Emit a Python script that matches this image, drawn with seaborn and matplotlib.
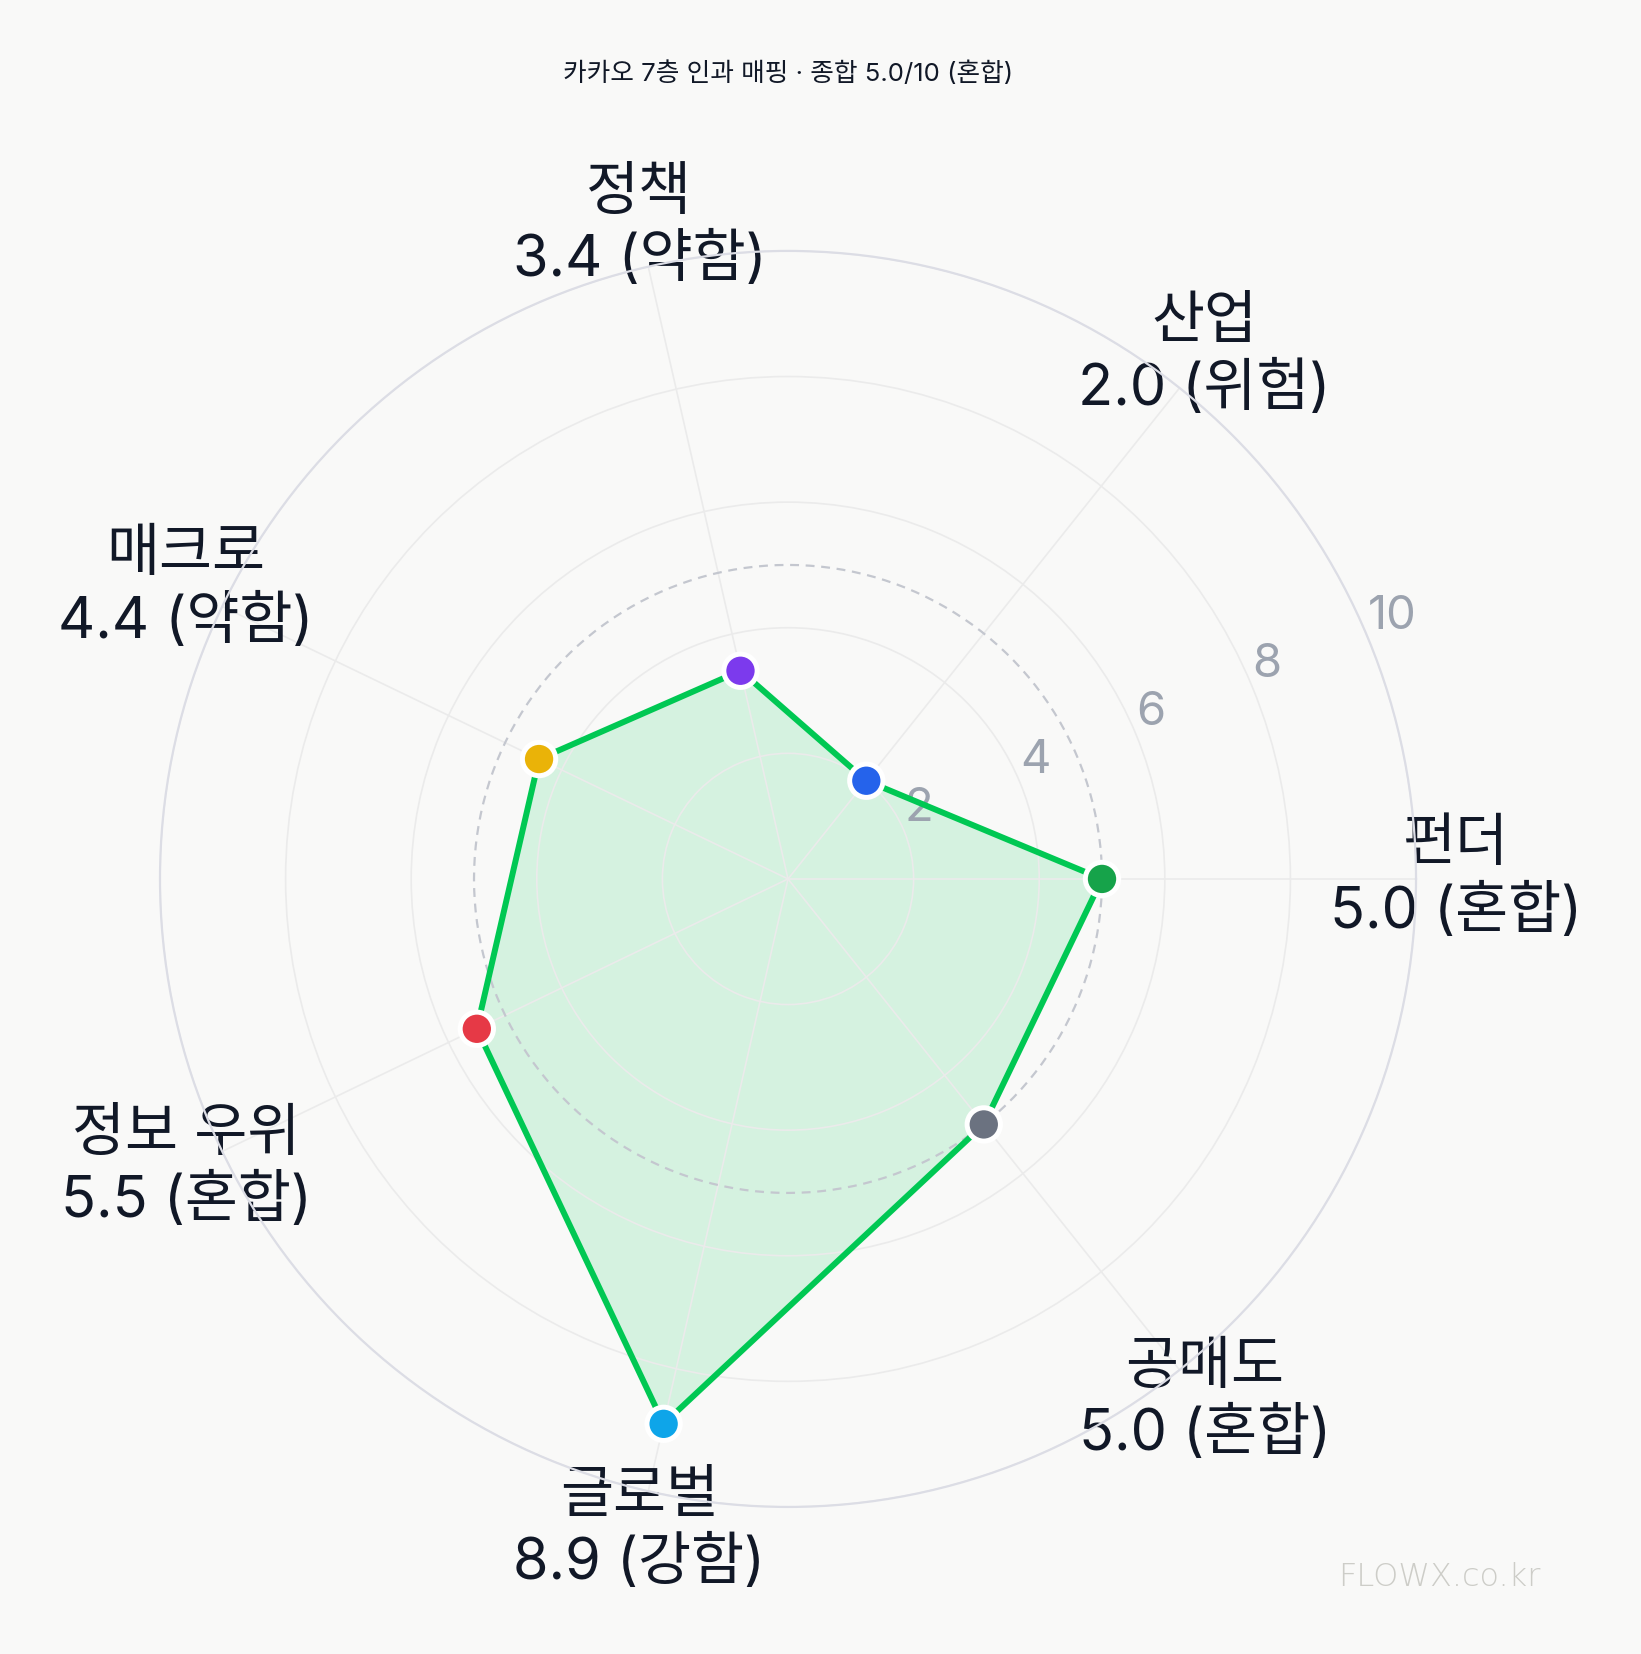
import numpy as np
import pandas as pd
import matplotlib
matplotlib.use("Agg")
import matplotlib.pyplot as plt
import seaborn as sns

# data
categories = ["펀더", "산업", "정책", "매크로", "정보 우위", "글로벌", "공매도"]
scores = [5.0, 2.0, 3.4, 4.4, 5.5, 8.9, 5.0]
grades = ["혼합", "위험", "약함", "약함", "혼합", "강함", "혼합"]
point_colors = ["#16a34a", "#2563eb", "#7c3aed", "#eab308", "#e63946", "#0ea5e9", "#6b7280"]
r_ticks = [2, 4, 6, 8, 10]
overall = 5.0
overall_grade = "혼합"
title = f"카카오 7층 인과 매핑 · 종합 {overall:.1f}/10 ({overall_grade})"

BG = "#f9f9f8"
TEXT = "#111827"
LINE = "#00c853"

sns.set_theme(style="white")
plt.rcParams["font.family"] = ["Inter", "Noto Sans CJK KR", "DejaVu Sans"]

n = len(categories)
theta = np.linspace(0, 2 * np.pi, n, endpoint=False)
df = pd.DataFrame({"theta": theta, "score": scores, "cat": categories})

fig = plt.figure(figsize=(16.41, 16.54), dpi=100, facecolor=BG)
ax = fig.add_axes([0.0975, 0.0889, 0.7654, 0.7594], projection="polar")
ax.set_facecolor(BG)
ax.set_axisbelow(False)
ax.set_theta_offset(0)
ax.set_theta_direction(1)
ax.set_ylim(0, 10)

# grid
ax.set_xticks(theta)
ax.set_xticklabels([])
ax.set_yticks(r_ticks)
ax.set_yticklabels([str(t) for t in r_ticks], fontsize=34, color="#9ca3af")
ax.set_rlabel_position(22.5)
ax.tick_params(axis="y", pad=6)
ax.grid(True, color="#ebebeb", linewidth=1.2)
ax.spines["polar"].set_color("#dcdde5")
ax.spines["polar"].set_linewidth(1.6)
ax.spines["polar"].set_zorder(3)

# midpoint dashed ring
ring = np.linspace(0, 2 * np.pi, 361)
ax.plot(ring, np.full_like(ring, 5.0), color="#c4c7cf", linestyle=(0, (4, 3)),
        linewidth=1.6, zorder=2.6)

# polygon
th_closed = np.append(theta, theta[0])
sc_closed = np.append(scores, scores[0])
ax.fill(th_closed, sc_closed, color=LINE, alpha=0.14, linewidth=0, zorder=2)
ax.plot(th_closed, sc_closed, color=LINE, linewidth=4.3, zorder=4, solid_joinstyle="round")

sns.scatterplot(data=df, x="theta", y="score", hue="cat", palette=point_colors,
                s=24 ** 2, edgecolor="white", linewidth=3.6, legend=False, ax=ax, zorder=5)
ax.set_xlabel("")
ax.set_ylabel("")

# category labels
for t, c, s, g in zip(theta, categories, scores, grades):
    ax.text(t, 10.64, f"{c}\n{s:.1f} ({g})", ha="center", va="center",
            fontsize=41.5, color=TEXT, linespacing=1.25)

fig.text(0.4805, 0.9555, title, ha="center", va="center", fontsize=18.5, color=TEXT)
fig.text(0.877, 0.0465, "FLOWX.co.kr", ha="center", va="center", fontsize=23,
         color="#cdcdc8", family="DejaVu Sans", fontweight="light")

plt.savefig("out.png", dpi=100, facecolor=BG)
plt.close()
